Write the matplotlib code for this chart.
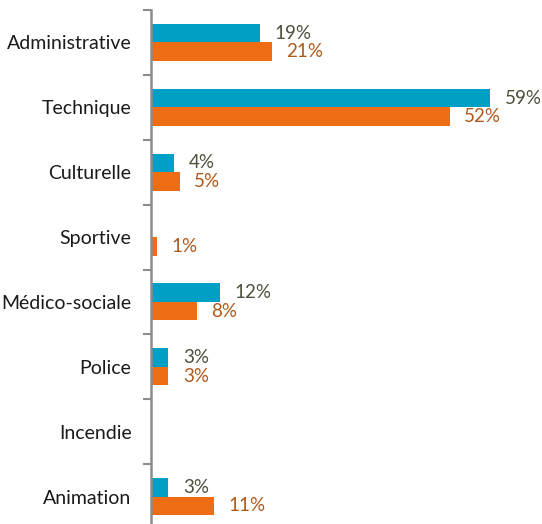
import matplotlib
matplotlib.use("Agg")
import matplotlib.pyplot as plt
import numpy as np

categories = ["Administrative", "Technique", "Culturelle", "Sportive",
              "Médico-sociale", "Police", "Incendie", "Animation"]
series_blue = [19, 59, 4, 0, 12, 3, 0, 3]
series_orange = [21, 52, 5, 1, 8, 3, 0, 11]

blue = "#00a0c6"
orange = "#ee6c14"
blue_txt = "#4f4f3c"
orange_txt = "#b0581a"

plt.rcParams['font.family'] = ['Lato', 'DejaVu Sans']

fig = plt.figure(figsize=(5.42, 5.24), dpi=100)
ax = fig.add_axes([151/542, 1 - 529/524, 0.9677 - 151/542, 519/524])

y = np.arange(len(categories))
h = 0.285
off = 0.143
ax.barh(y - off, series_blue, height=h, color=blue)
ax.barh(y + off, series_orange, height=h, color=orange)

for yi, v in zip(y, series_blue):
    if v > 0:
        ax.annotate(f"{v}%", (v, yi - off), xytext=(10.5, 0), textcoords="offset points",
                    va="center", ha="left", fontsize=13.5, color=blue_txt)
for yi, v in zip(y, series_orange):
    if v > 0:
        ax.annotate(f"{v}%", (v, yi + off), xytext=(10.5, 0), textcoords="offset points",
                    va="center", ha="left", fontsize=13.5, color=orange_txt)

ax.set_xlim(0, 65)
ax.set_ylim(len(categories) - 0.5, -0.5)
ax.set_yticks(y)
ax.set_yticklabels(categories, fontsize=14, color="#1a1a1a")
ax.tick_params(axis="y", which="major", length=0, pad=14)
ax.set_yticks(np.arange(-0.5, len(categories), 1), minor=True)
ax.tick_params(axis="y", which="minor", length=6, width=1.5, color="#8c8c8c", direction="out")
ax.set_xticks([])
for s in ["top", "right", "bottom"]:
    ax.spines[s].set_visible(False)
ax.spines["left"].set_color("#8c8c8c")
ax.spines["left"].set_linewidth(1.8)

fig.savefig("out.png", dpi=100)
